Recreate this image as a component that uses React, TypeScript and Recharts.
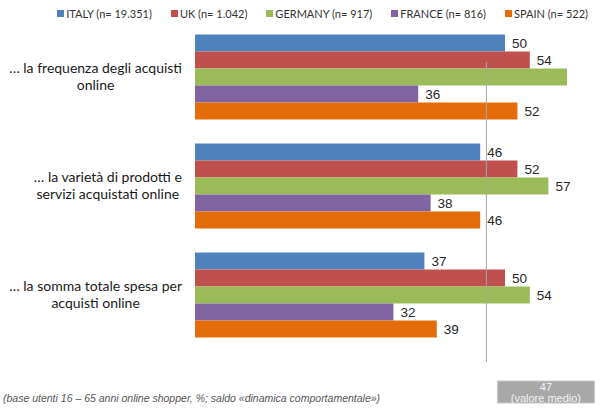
import React from 'react';
import { BarChart, Bar, XAxis, YAxis, LabelList, ReferenceLine } from 'recharts';

const categories = [
  '… la frequenza degli acquisti\nonline',
  '… la varietà di prodotti e\nservizi acquistati online',
  '… la somma totale spesa per\nacquisti online',
];
const italy = [50, 46, 37];
const uk = [54, 52, 50];
const germany = [60, 57, 54];
const germanyLabels = [null, 57, 54];
const france = [36, 38, 32];
const spain = [52, 46, 39];
const average = 47;

const seriesNames = ['ITALY (n= 19.351)', 'UK (n= 1.042)', 'GERMANY (n= 917)', 'FRANCE (n= 816)', 'SPAIN (n= 522)'];
const colors = ['#4f81bd', '#c0504d', '#9bbb59', '#8064a2', '#e46c0a'];
const keys = ['italy', 'uk', 'germany', 'france', 'spain'];
const labelKeys = ['italy', 'uk', 'germanyLabel', 'france', 'spain'];

const data = categories.map((c, i) => ({
  cat: c,
  italy: italy[i],
  uk: uk[i],
  germany: germany[i],
  germanyLabel: germanyLabels[i],
  france: france[i],
  spain: spain[i],
}));

const TICK_FONT = '14px Lato';
let measureCtx: CanvasRenderingContext2D | null = null;
const measure = (s: string) => {
  if (!measureCtx) {
    const c = document.createElement('canvas');
    measureCtx = c.getContext('2d');
  }
  if (!measureCtx) return s.length * 6.5;
  measureCtx.font = TICK_FONT;
  return measureCtx.measureText(s).width;
};

const CategoryTick = (props: any) => {
  const { y, payload } = props;
  const lines: string[] = String(payload.value).split('\n');
  const maxW = Math.max(...lines.map(measure));
  const cx = 182 - maxW / 2;
  return (
    <g>
      {lines.map((l, i) => (
        <text
          key={i}
          x={cx}
          y={y - 4 + i * 17}
          textAnchor="middle"
          fontFamily="Lato"
          fontSize={14}
          fill="#1a1a1a"
        >
          {l}
        </text>
      ))}
    </g>
  );
};

const LegendBlock = () => (
  <div
    style={{
      position: 'absolute',
      top: 7,
      right: 12,
      display: 'flex',
      fontFamily: 'Lato',
      fontSize: 11,
      color: '#333',
      whiteSpace: 'nowrap',
    }}
  >
    {seriesNames.map((n, i) => (
      <span key={n} style={{ display: 'flex', alignItems: 'center', marginLeft: i === 0 ? 0 : 19 }}>
        <span style={{ display: 'inline-block', width: 7, height: 7, background: colors[i], marginRight: 2 }} />
        {n}
      </span>
    ))}
  </div>
);

const AvgLine = (props: any) => {
  const { x1, y1, y2 } = props;
  const top = y1 + 12.5;
  const bottom = y2 + 39.5;
  return (
    <g>
      <line x1={x1} x2={x1} y1={top} y2={bottom} stroke="#a6a6a6" strokeWidth={1} />
      <rect x={x1 + 11} y={381} width={97} height={22} fill="#a8a8a8" stroke="#c8c8c8" strokeWidth={1} />
      <text x={x1 + 59.5} y={391} textAnchor="middle" fontFamily="Liberation Sans, Arial" fontSize={11} fill="#f2f2f2">
        {average}
      </text>
      <text x={x1 + 59.5} y={402} textAnchor="middle" fontFamily="Liberation Sans, Arial" fontSize={11} fill="#f2f2f2">
        (valore medio)
      </text>
    </g>
  );
};

export default function App() {
  return (
    <div style={{ position: 'absolute', left: 0, top: 0, width: 600, height: 411, background: '#fff' }}>
      <BarChart
        width={600}
        height={411}
        data={data}
        layout="vertical"
        margin={{ top: 22.5, right: 2, bottom: 61.5, left: 0 }}
        barGap={0}
        barCategoryGap={12}
      >
        <XAxis type="number" domain={[0, 65]} hide />
        <YAxis
          type="category"
          dataKey="cat"
          width={195}
          tickLine={false}
          axisLine={false}
          tick={<CategoryTick />}
          interval={0}
        />
        {keys.map((k, i) => (
          <Bar key={k} dataKey={k} name={seriesNames[i]} fill={colors[i]} isAnimationActive={false}>
            <LabelList
              dataKey={labelKeys[i]}
              position="right"
              offset={7}
              fill="#262626"
              fontSize={13.5}
              fontFamily="Liberation Sans, Arial"
            />
          </Bar>
        ))}
        <ReferenceLine x={average} stroke="#a6a6a6" shape={<AvgLine />} ifOverflow="visible" />
      </BarChart>
      <LegendBlock />
      <div
        style={{
          position: 'absolute',
          left: 3,
          top: 392,
          fontFamily: 'Liberation Sans, Arial',
          fontStyle: 'italic',
          fontSize: 10.5,
          color: '#555',
          whiteSpace: 'nowrap',
        }}
      >
        (base utenti 16 – 65 anni online shopper, %; saldo «dinamica comportamentale»)
      </div>
    </div>
  );
}
